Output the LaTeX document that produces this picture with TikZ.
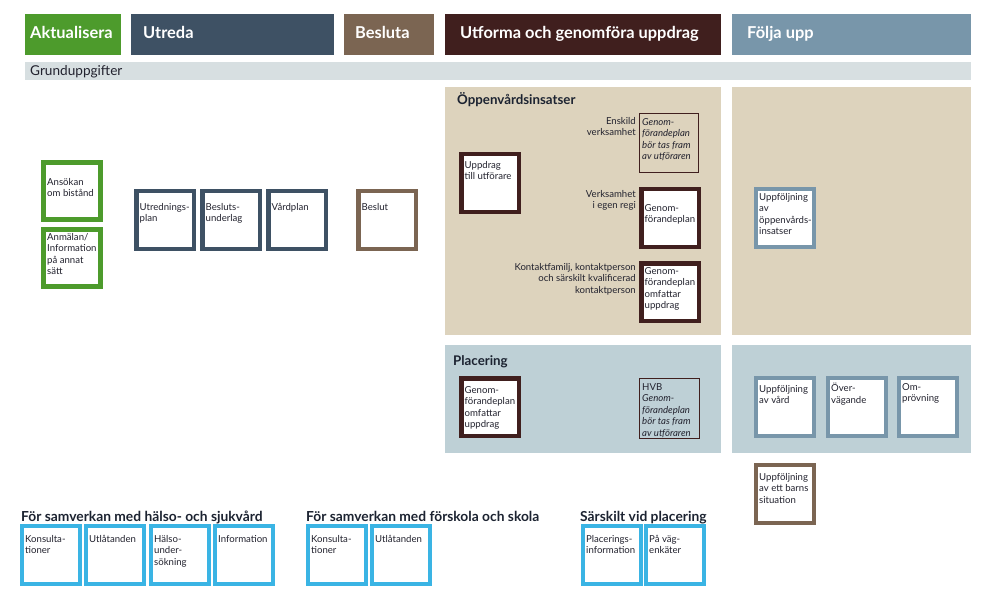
\documentclass[tikz,border=0pt]{standalone}
\usepackage{fontspec}
\setmainfont{Lato}
\definecolor{cgreen}{HTML}{4D9B2C}
\definecolor{cutreda}{HTML}{3E5164}
\definecolor{cbesluta}{HTML}{7B6552}
\definecolor{cutforma}{HTML}{401F1E}
\definecolor{cfolja}{HTML}{7896AA}
\definecolor{cgrund}{HTML}{D7DFE1}
\definecolor{coppen}{HTML}{DDD3BD}
\definecolor{cplac}{HTML}{BED0D6}
\definecolor{cblue}{HTML}{3AB4E4}
\definecolor{cbody}{HTML}{22222E}
\definecolor{ctitle}{HTML}{1C2331}
\tikzset{
  header/.style={anchor=base west, inner sep=0pt, text=white, font=\fontsize{16.4}{18}\selectfont\bfseries},
  boxtext/.style={anchor=north west, inner sep=0pt, align=left, text=cbody, font=\fontsize{9.6}{11.5}\selectfont},
  sidelabel/.style={anchor=north east, inner sep=0pt, align=right, text=cbody, font=\fontsize{9.6}{11.5}\selectfont},
  paneltitle/.style={anchor=base west, inner sep=0pt, text=ctitle, font=\fontsize{13.3}{15}\selectfont\bfseries},
  grouptitle/.style={anchor=base west, inner sep=0pt, text=ctitle, font=\fontsize{13.8}{15}\selectfont\bfseries},
}
% box: name, x1, y1, x2, y2, colour, line width, text, text top offset
\newcommand\bx[9]{%
  \node[draw=#6, line width=#7pt, fill=white, inner sep=0pt,
        minimum width={(#4-#2-#7)*1pt}, minimum height={(#5-#3-#7)*1pt}]
        (#1) at ({(#2+#4)/2},{(#3+#5)/2}) {};
  \node[boxtext] (#1t) at ({#2+#7+1},{#3+#9}) {#8};}
% thin box without fill
\newcommand\tbx[7]{%
  \node[draw=#6, line width=1.2pt, inner sep=0pt,
        minimum width={(#4-#2-1.2)*1pt}, minimum height={(#5-#3-1.2)*1pt}]
        (#1) at ({(#2+#4)/2},{(#3+#5)/2}) {};
  \node[boxtext] (#1t) at ({#2+3},{#3+5}) {#7};}
\begin{document}
\begin{tikzpicture}[x=1pt,y=-1pt]
\useasboundingbox (0,0) rectangle (987,604);
\fill[white] (0,0) rectangle (987,604);
% header bars
\fill[cgreen]   (25,14) rectangle (121,55);
\fill[cutreda]  (131,14) rectangle (334,55);
\fill[cbesluta] (344,14) rectangle (434,55);
\fill[cutforma] (445,14) rectangle (721,55);
\fill[cfolja]   (732,14) rectangle (971,55);
\node[header] (hakt) at (30,39) {Aktualisera};
\node[header] (hutr) at (143,39) {Utreda};
\node[header] (hbes) at (355,39) {Besluta};
\node[header] (hutf) at (460,39) {Utforma och genomföra uppdrag};
\node[header] (hfol) at (747,39) {Följa upp};
% grunduppgifter bar
\fill[cgrund] (25,62) rectangle (971,80);
\node[anchor=base west, inner sep=0pt, text=cbody, font=\fontsize{13.6}{15}\selectfont] (grund) at (30,75.5) {Grunduppgifter};
% panels
\fill[coppen] (445,87) rectangle (721,335);
\fill[coppen] (732,87) rectangle (971,335);
\fill[cplac]  (445,345) rectangle (721,453);
\fill[cplac]  (732,345) rectangle (971,453);
\node[paneltitle] (toppen) at (457,105) {Öppenvårdsinsatser};
\node[paneltitle] (tplac) at (453,365) {Placering};
% aktualisera
\bx{ansokan}{41}{160}{103}{222}{cgreen}{5}{Ansökan\\om bistånd}{18}
\bx{anmalan}{41}{227}{103}{289}{cgreen}{5}{Anmälan/\\Information\\på annat\\sätt}{6}
% utreda
\bx{utrplan}{134}{189}{196}{251}{cutreda}{4.5}{Utrednings-\\plan}{14}
\bx{beslund}{200}{189}{262}{251}{cutreda}{4.5}{Besluts-\\underlag}{14}
\bx{vardplan}{266}{189}{328}{251}{cutreda}{4.5}{Vårdplan}{14}
% besluta
\bx{beslut}{356}{189}{418}{251}{cbesluta}{4.5}{Beslut}{14}
% oppenvard
\bx{uppdrag}{459}{152}{521}{214}{cutforma}{4.5}{Uppdrag\\till utförare}{9}
\tbx{enskild}{639}{113}{699}{173}{cutforma}{{\itshape Genom-}\\{\itshape förandeplan}\\{\itshape bör tas fram}\\{\itshape av utföraren}}
\bx{egenregi}{639}{187}{701}{249}{cutforma}{4.5}{Genom-\\förandeplan}{17}
\bx{kontakt}{639}{261}{701}{323}{cutforma}{4.5}{Genom-\\förandeplan\\omfattar\\uppdrag}{6}
\node[sidelabel] (lenskild) at (636,117) {Enskild\\verksamhet};
\node[sidelabel] (legen) at (636,190) {Verksamhet\\i egen regi};
\node[sidelabel] (lkontakt) at (636,263) {Kontaktfamilj, kontaktperson\\och särskilt kvalificerad\\kontaktperson};
\bx{uppopp}{754}{187}{816}{249}{cfolja}{4}{Uppföljning\\av\\öppenvårds-\\insatser}{6}
% placering
\bx{placgen}{459}{376}{521}{438}{cutforma}{4.5}{Genom-\\förandeplan\\omfattar\\uppdrag}{10}
\tbx{hvb}{639}{378}{700}{439}{cutforma}{HVB\\{\itshape Genom-}\\{\itshape förandeplan}\\{\itshape bör tas fram}\\{\itshape av utföraren}}
\bx{uppvard}{754}{376}{816}{438}{cfolja}{4}{Uppföljning\\av vård}{9}
\bx{overv}{826}{376}{888}{438}{cfolja}{4}{Över-\\vägande}{7}
\bx{omprov}{897}{376}{959}{438}{cfolja}{4}{Om-\\prövning}{7}
\bx{barns}{754}{463}{816}{525}{cbesluta}{4}{Uppföljning\\av ett barns\\situation}{10}
% bottom groups
\node[grouptitle] (g1) at (21,521) {För samverkan med hälso- och sjukvård};
\node[grouptitle] (g2) at (306,521) {För samverkan med förskola och skola};
\node[grouptitle] (g3) at (580,521) {Särskilt vid placering};
\bx{kons1}{20}{524}{82}{586}{cblue}{4}{Konsulta-\\tioner}{11}
\bx{utl1}{84}{524}{146}{586}{cblue}{4}{Utlåtanden}{11}
\bx{halso}{149}{524}{211}{586}{cblue}{4}{Hälso-\\under-\\sökning}{11}
\bx{info}{213}{524}{275}{586}{cblue}{4}{Information}{11}
\bx{kons2}{306}{524}{368}{586}{cblue}{4}{Konsulta-\\tioner}{11}
\bx{utl2}{370}{524}{432}{586}{cblue}{4}{Utlåtanden}{11}
\bx{placinfo}{581}{524}{643}{586}{cblue}{4}{Placerings-\\information}{11}
\bx{pavag}{644}{524}{706}{586}{cblue}{4}{På väg-\\enkäter}{11}
\end{tikzpicture}
\end{document}
